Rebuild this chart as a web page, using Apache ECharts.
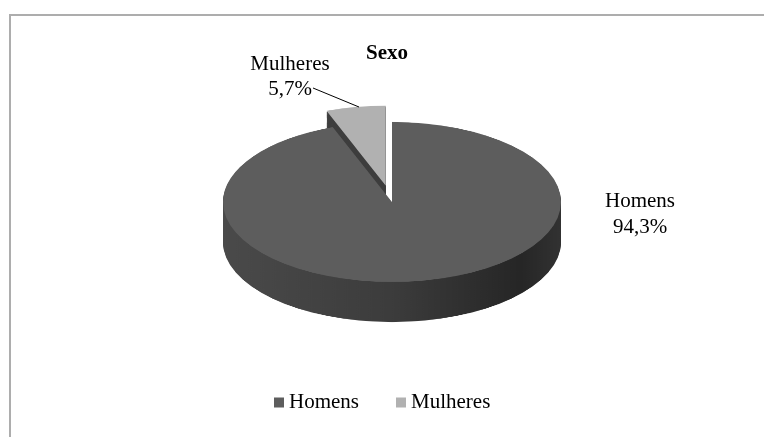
<!DOCTYPE html>
<html><head><meta charset="utf-8">
<script src="https://cdn.jsdelivr.net/npm/echarts/dist/echarts.min.js"></script>
<style>
html,body{margin:0;padding:0;background:#fff;}
#wrap{position:relative;width:764px;height:437px;overflow:hidden;background:#fff;}
#pie{position:absolute;left:0;top:0;width:764px;height:800px;transform:scaleY(0.4734);transform-origin:0 0;}
#main{position:absolute;left:0;top:0;width:764px;height:437px;}
</style></head><body>
<div id="wrap"><div id="pie"></div><div id="main"></div></div>
<script>
const chartTitle = 'Sexo';
const categories = ['Homens', 'Mulheres'];
const values = [94.3, 5.7];

const fmt = v => v.toFixed(1).replace('.', ',') + '%';
const FONT = 'Liberation Serif';
const K = 0.4734;            // vertical squash of the pie (tilt)
const CX = 392, CY = 202, R = 169, DEPTH = 40;
const topColors = ['#5d5d5d', '#b1b1b1'];
const sideHomens = new echarts.graphic.LinearGradient(0, 0, 1, 0, [
  {offset: 0, color: '#4a4a4a'}, {offset: 0.5, color: '#3c3c3c'},
  {offset: 0.88, color: '#262626'}, {offset: 1, color: '#323232'}]);
const sideColors = [sideHomens, '#3e3e3e'];

const cyDiv = CY / K, depthDiv = DEPTH / K;
const steps = 44;
const pieSeries = [];
for (let i = steps; i >= 0; i--) {
  const dy = depthDiv * i / steps;
  const isTop = i === 0;
  pieSeries.push({
    type: 'pie', silent: true, animation: false,
    selectedMode: 'single', selectedOffset: 35,
    startAngle: 90, clockwise: true, radius: R, center: [CX, cyDiv + dy],
    label: {show: false}, labelLine: {show: false},
    emphasis: {disabled: true},
    itemStyle: {borderWidth: 0},
    data: categories.map((c, j) => {
      const col = isTop ? topColors[j] : sideColors[j];
      return {name: c, value: values[j], selected: j === 1,
        itemStyle: {color: col, borderWidth: 0},
        select: {itemStyle: {color: col, borderWidth: 0}}};
    })
  });
}
const pieChart = echarts.init(document.getElementById('pie'), null, {renderer: 'canvas'});
pieChart.setOption({animation: false, series: pieSeries});

const main = echarts.init(document.getElementById('main'));
main.setOption({
  animation: false,
  title: {text: chartTitle, left: 366, top: 43, padding: 0,
    textStyle: {fontFamily: FONT, fontSize: 21, fontWeight: 'bold', color: '#000'}},
  legend: {left: 274, top: 392, padding: 0, itemWidth: 10, itemHeight: 10, itemGap: 37,
    icon: 'rect', data: categories,
    textStyle: {fontFamily: FONT, fontSize: 21, color: '#000'}},
  series: [{type: 'pie', radius: 0, center: [CX, CY], silent: true,
    label: {show: false}, labelLine: {show: false},
    data: categories.map((c, j) => ({name: c, value: values[j], itemStyle: {color: topColors[j]}}))}],
  graphic: [
    {type: 'rect', silent: true, shape: {x: 10, y: 15, width: 800, height: 500},
      style: {fill: 'none', stroke: '#adadad', lineWidth: 2}},
    {type: 'text', x: 290, y: 77, silent: true,
      style: {text: categories[1] + '\n' + fmt(values[1]), fontFamily: FONT, fontSize: 21,
        fill: '#000', textAlign: 'center', textVerticalAlign: 'middle', lineHeight: 25}},
    {type: 'text', x: 640, y: 214, silent: true,
      style: {text: categories[0] + '\n' + fmt(values[0]), fontFamily: FONT, fontSize: 21,
        fill: '#000', textAlign: 'center', textVerticalAlign: 'middle', lineHeight: 26}},
    {type: 'line', silent: true, shape: {x1: 313, y1: 88, x2: 359, y2: 107},
      style: {stroke: '#000', lineWidth: 1}}
  ]
});
</script>
</body></html>
